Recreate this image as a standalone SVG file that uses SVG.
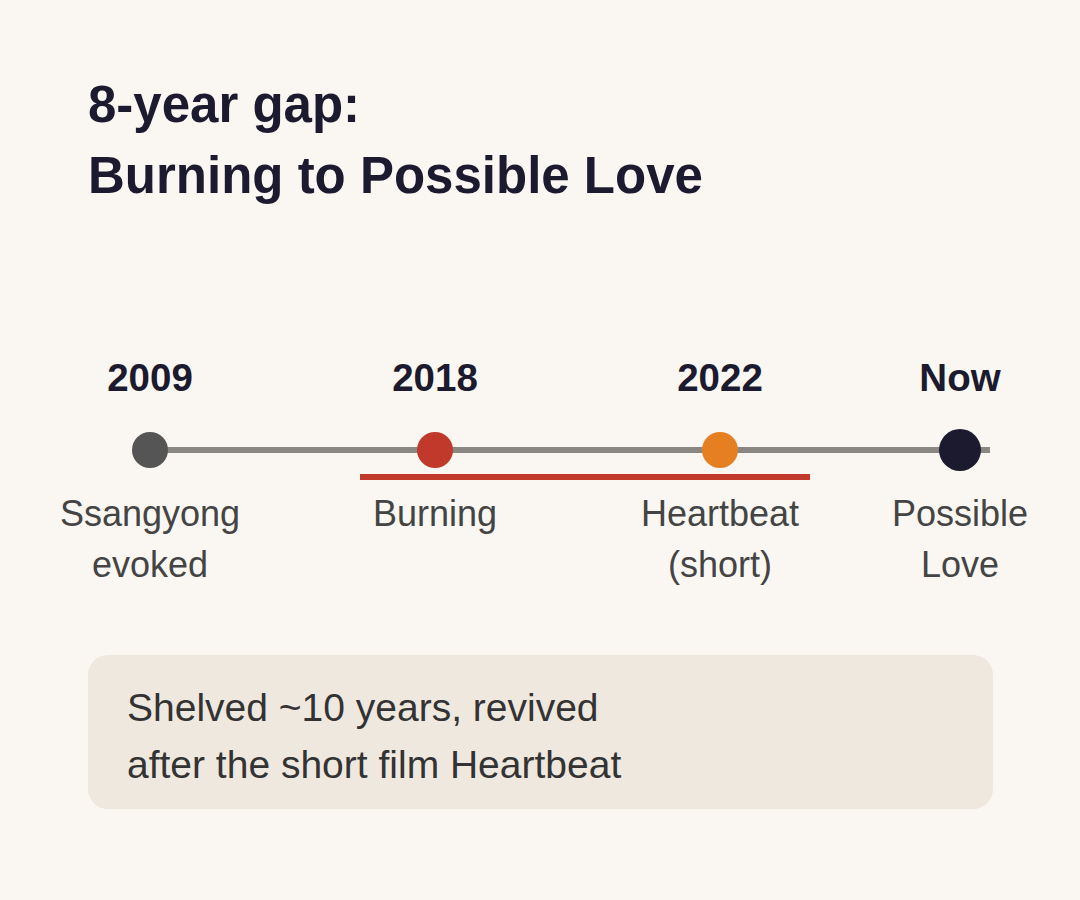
<svg xmlns="http://www.w3.org/2000/svg" width="1080" height="900" viewBox="0 0 1080 900">
<style>
text{font-family:"Liberation Sans",Arial,sans-serif}
.title{font-size:51px;font-weight:bold;fill:#1c1a2e}
.year{font-size:38.5px;font-weight:bold;fill:#1c1a2e;text-anchor:middle}
.lab{font-size:36px;fill:#444;text-anchor:middle}
.note{font-size:39px;fill:#333}
</style>
<rect width="1080" height="900" fill="#faf7f2"/>
<g id="title">
<text class="title" x="88" y="122">8-year gap:</text>
<text class="title" x="88" y="193">Burning to Possible Love</text>
</g>
<g id="connectors">
<line x1="150" y1="450" x2="990" y2="450" stroke="#8a8783" stroke-width="6"/>
<line x1="360" y1="477" x2="810" y2="477" stroke="#c0392b" stroke-width="6"/>
</g>
<g id="n2009">
<text class="year" x="150" y="391">2009</text>
<circle cx="150" cy="450" r="18" fill="#555555"/>
<text class="lab" x="150" y="526">Ssangyong</text>
<text class="lab" x="150" y="577">evoked</text>
</g>
<g id="n2018">
<text class="year" x="435" y="391">2018</text>
<circle cx="435" cy="450" r="18" fill="#c0392b"/>
<text class="lab" x="435" y="526">Burning</text>
</g>
<g id="n2022">
<text class="year" x="720" y="391">2022</text>
<circle cx="720" cy="450" r="18" fill="#e67e22"/>
<text class="lab" x="720" y="526">Heartbeat</text>
<text class="lab" x="720" y="577">(short)</text>
</g>
<g id="nNow">
<text class="year" x="960" y="391">Now</text>
<circle cx="960" cy="450" r="21" fill="#1c1a2e"/>
<text class="lab" x="960" y="526">Possible</text>
<text class="lab" x="960" y="577">Love</text>
</g>
<g id="note">
<rect x="88" y="655" width="905" height="154" rx="20" fill="#efe8df"/>
<text class="note" x="127" y="721">Shelved ~10 years, revived</text>
<text class="note" x="127" y="778">after the short film Heartbeat</text>
</g>
</svg>
